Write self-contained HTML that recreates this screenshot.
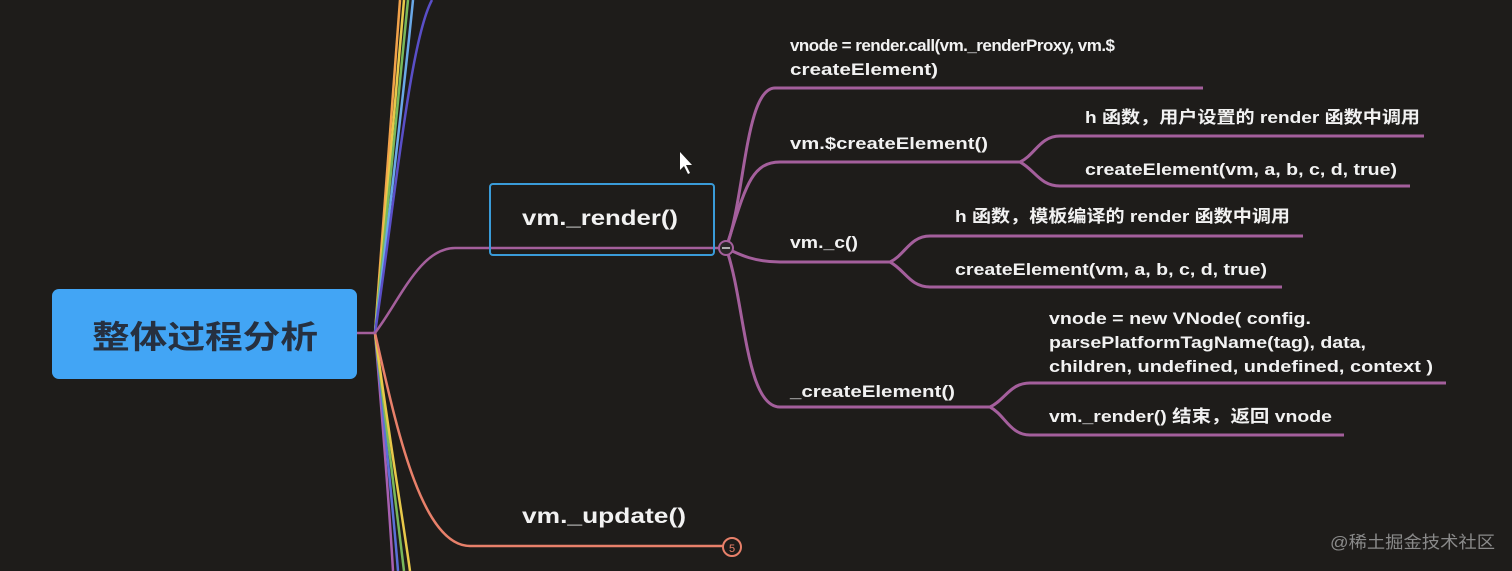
<!DOCTYPE html>
<html><head><meta charset="utf-8"><style>
html,body{margin:0;padding:0;background:#1e1c1a;}
svg{display:block;}
text{font-family:"Liberation Sans","Noto Sans CJK SC",sans-serif;font-weight:bold;fill:#f2f2f2;}
</style></head><body>
<svg width="1512" height="571" viewBox="0 0 1512 571" xmlns="http://www.w3.org/2000/svg">
<rect width="1512" height="571" fill="#1e1c1a"/>
<g fill="none" stroke-width="2.5">
<path d="M375 333 C385 200 395 80 400 0" stroke="#f2a24a"/>
<path d="M375 333 C387 200 398 80 404 0" stroke="#e8c94a"/>
<path d="M375 333 C389 200 401 80 408 0" stroke="#78b85a"/>
<path d="M375 333 C391 200 405 80 413 0" stroke="#6aa8e8"/>
<path d="M375 333 C395 200 410 40 432 0" stroke="#5a4fc8"/>
<path d="M375 333 C385 450 390 520 393 571" stroke="#a860b0"/>
<path d="M375 333 C387 450 394 520 398 571" stroke="#5a6fd8"/>
<path d="M375 333 C389 450 398 520 404 571" stroke="#78b85a"/>
<path d="M375 333 C391 450 403 520 410 571" stroke="#e8c94a"/>
<path d="M375 333 C395 420 420 546 470 546 L724 546" stroke="#e8806a"/>
<path d="M357 333 L375 333 C400 300 420 248 455 248 L719 248" stroke="#a45f9c"/>
</g>
<rect x="52" y="289" width="305" height="90" rx="7" fill="#42a5f5"/>
<text x="92" y="348" font-size="32" textLength="226" lengthAdjust="spacingAndGlyphs" style="fill:#263040">整体过程分析</text>
<rect x="490" y="184" width="224" height="71" rx="3" fill="none" stroke="#3a9bd8" stroke-width="2"/>
<text x="522" y="225" font-size="21" textLength="156" lengthAdjust="spacingAndGlyphs">vm._render()</text>
<text x="522" y="523" font-size="21" textLength="164" lengthAdjust="spacingAndGlyphs">vm._update()</text>
<circle cx="732" cy="547" r="9" fill="#1e1c1a" stroke="#e8806a" stroke-width="2"/>
<text x="732" y="552" text-anchor="middle" font-size="11" style="fill:#e8806a;font-weight:normal">5</text>
<g fill="none" stroke="#a45f9c" stroke-width="3">
<path d="M726 248 C745 200 745 88 775 88 L1203 88"/>
<path d="M726 248 C745 190 750 162 780 162 L1020 162"/>
<path d="M1020 162 C1035 155 1040 136 1060 136 L1424 136"/>
<path d="M1020 162 C1035 170 1040 186 1060 186 L1410 186"/>
<path d="M726 248 C740 255 755 262 780 262 L890 262"/>
<path d="M890 262 C905 255 910 236 930 236 L1303 236"/>
<path d="M890 262 C905 270 910 287 930 287 L1282 287"/>
<path d="M726 248 C745 300 745 407 780 407 L990 407"/>
<path d="M990 407 C1005 400 1010 383 1030 383 L1446 383"/>
<path d="M990 407 C1005 415 1010 435 1030 435 L1344 435"/>
</g>
<circle cx="726" cy="248" r="7" fill="#2a2628" stroke="#a45f9c" stroke-width="2"/>
<line x1="722" y1="248" x2="730" y2="248" stroke="#ddd" stroke-width="1.5"/>
<g font-size="17">
<text x="790" y="51" font-size="17" textLength="325" lengthAdjust="spacing">vnode = render.call(vm._renderProxy, vm.$</text>
<text x="790" y="75" textLength="148" lengthAdjust="spacingAndGlyphs">createElement)</text>
<text x="790" y="149" textLength="198" lengthAdjust="spacingAndGlyphs">vm.$createElement()</text>
<text x="1085" y="123" textLength="335" lengthAdjust="spacingAndGlyphs">h 函数，用户设置的 render 函数中调用</text>
<text x="1085" y="175" textLength="312" lengthAdjust="spacingAndGlyphs">createElement(vm, a, b, c, d, true)</text>
<text x="790" y="248" textLength="68" lengthAdjust="spacingAndGlyphs">vm._c()</text>
<text x="955" y="222" textLength="335" lengthAdjust="spacingAndGlyphs">h 函数，模板编译的 render 函数中调用</text>
<text x="955" y="275" textLength="312" lengthAdjust="spacingAndGlyphs">createElement(vm, a, b, c, d, true)</text>
<text x="1049" y="324" textLength="262" lengthAdjust="spacingAndGlyphs">vnode = new VNode( config.</text>
<text x="1049" y="348" textLength="317" lengthAdjust="spacingAndGlyphs">parsePlatformTagName(tag), data,</text>
<text x="1049" y="372" textLength="384" lengthAdjust="spacingAndGlyphs">children, undefined, undefined, context )</text>
<text x="790" y="397" textLength="165" lengthAdjust="spacingAndGlyphs">_createElement()</text>
<text x="1049" y="422" textLength="283" lengthAdjust="spacingAndGlyphs">vm._render() 结束，返回 vnode</text>
</g>
<path d="M680 152 L680 170 L684 166 L688 174 L690 173 L686 165 L692 165 Z" fill="#fff"/>
<text x="1330" y="548" font-size="17" textLength="165" lengthAdjust="spacingAndGlyphs" style="fill:#8a8a8a;font-weight:normal">@稀土掘金技术社区</text>
</svg>
</body></html>
